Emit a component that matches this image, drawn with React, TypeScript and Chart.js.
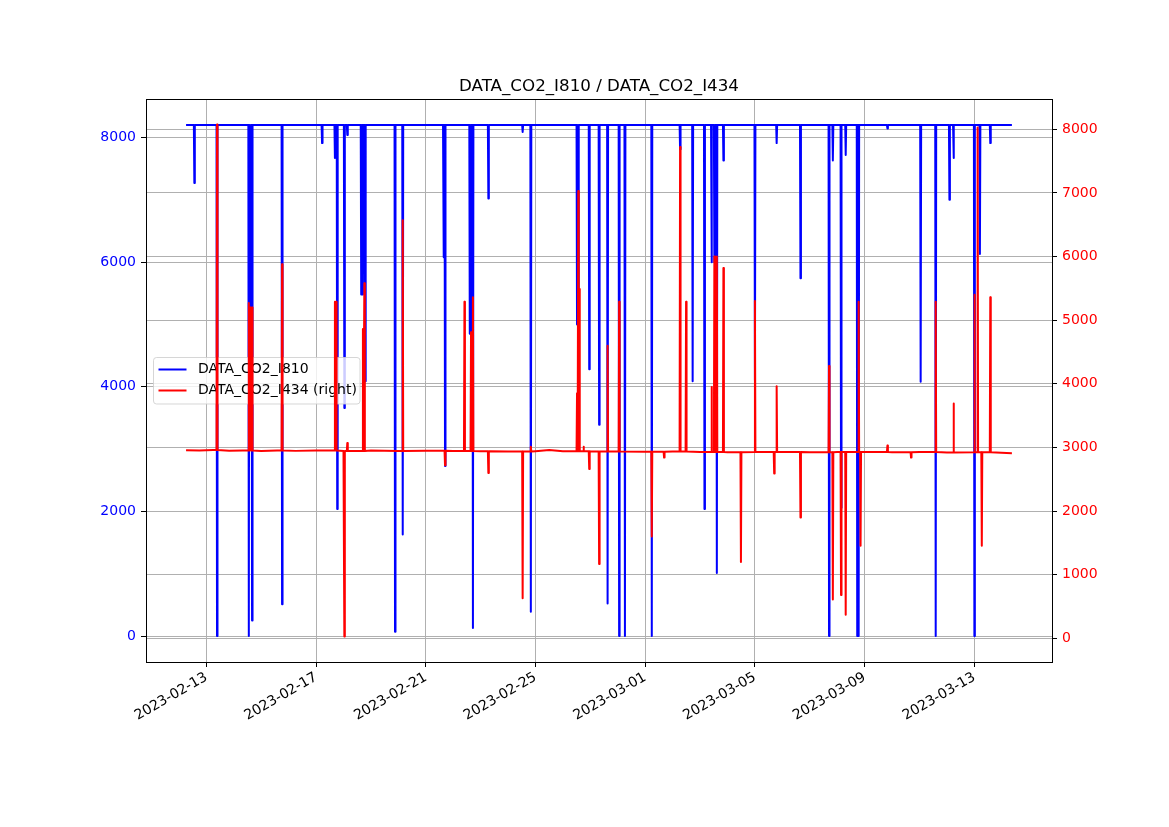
import React, { useEffect, useRef } from "react";
import { Chart, registerables } from "chart.js";

Chart.register(...registerables);

// ---------------- data ----------------
const TITLE = "DATA_CO2_I810 / DATA_CO2_I434";
const SERIES_NAMES = ["DATA_CO2_I810", "DATA_CO2_I434 (right)"];
const SERIES_COLORS = ["#0000ff", "#ff0000"];

const X_TICK_LABELS = [
  "2023-02-13",
  "2023-02-17",
  "2023-02-21",
  "2023-02-25",
  "2023-03-01",
  "2023-03-05",
  "2023-03-09",
  "2023-03-13",
];
const LEFT_TICKS = [0, 2000, 4000, 6000, 8000];
const RIGHT_TICKS = [0, 1000, 2000, 3000, 4000, 5000, 6000, 7000, 8000];

const X_MIN = "2023-02-10 19:12";
const X_MAX = "2023-03-15 19:55";
const LEFT_MIN = -417;
const LEFT_MAX = 8618;
const RIGHT_MIN = -372;
const RIGHT_MAX = 8476;

const RECORD_START = "2023-02-12 06:15";
const RECORD_END = "2023-03-14 08:50";

// DATA_CO2_I810: steady level with short drops
const I810_BASE = 8200;
const I810_EVENTS: [string, number][] = [
  ["2023-02-12 13:30", 7270],
  ["2023-02-13 09:20", 0],
  ["2023-02-14 13:10", 0],
  ["2023-02-14 14:30", 4500],
  ["2023-02-14 16:00", 250],
  ["2023-02-15 18:15", 510],
  ["2023-02-17 05:15", 7910],
  ["2023-02-17 16:30", 7670],
  ["2023-02-17 18:30", 2040],
  ["2023-02-18 00:45", 3660],
  ["2023-02-18 03:20", 8040],
  ["2023-02-18 15:30", 5480],
  ["2023-02-18 17:00", 5480],
  ["2023-02-18 19:00", 4090],
  ["2023-02-19 21:05", 70],
  ["2023-02-20 03:50", 1630],
  ["2023-02-21 15:30", 6080],
  ["2023-02-21 16:50", 2730],
  ["2023-02-22 14:30", 4850],
  ["2023-02-22 15:35", 4850],
  ["2023-02-22 17:15", 130],
  ["2023-02-23 06:45", 7020],
  ["2023-02-24 12:45", 8090],
  ["2023-02-24 19:55", 390],
  ["2023-02-26 12:20", 5000],
  ["2023-02-26 13:25", 3860],
  ["2023-02-26 23:00", 4280],
  ["2023-02-27 07:40", 3390],
  ["2023-02-27 15:05", 520],
  ["2023-02-28 01:10", 0],
  ["2023-02-28 06:15", 0],
  ["2023-03-01 05:45", 0],
  ["2023-03-02 06:30", 7810],
  ["2023-03-02 17:30", 4090],
  ["2023-03-03 03:50", 2040],
  ["2023-03-03 10:00", 6000],
  ["2023-03-03 12:30", 6000],
  ["2023-03-03 14:40", 1010],
  ["2023-03-03 20:25", 7630],
  ["2023-03-05 00:00", 4100],
  ["2023-03-05 19:00", 7910],
  ["2023-03-06 15:50", 5740],
  ["2023-03-07 16:50", 0],
  ["2023-03-07 20:10", 7630],
  ["2023-03-08 03:20", 2060],
  ["2023-03-08 07:25", 7720],
  ["2023-03-08 17:30", 0],
  ["2023-03-08 18:45", 0],
  ["2023-03-09 19:55", 8145],
  ["2023-03-11 01:00", 4080],
  ["2023-03-11 14:10", 0],
  ["2023-03-12 02:10", 7000],
  ["2023-03-12 05:45", 7670],
  ["2023-03-13 00:00", 0],
  ["2023-03-13 04:50", 6130],
  ["2023-03-13 13:55", 7910],
];

// DATA_CO2_I434: slowly drifting level
const I434_BASELINE: [string, number][] = [
  ["2023-02-12 06:15", 2955],
  ["2023-02-12 18:00", 2950],
  ["2023-02-13 06:00", 2958],
  ["2023-02-13 20:00", 2948],
  ["2023-02-14 08:00", 2952],
  ["2023-02-15 00:00", 2945],
  ["2023-02-15 14:00", 2950],
  ["2023-02-16 06:00", 2946],
  ["2023-02-17 00:00", 2950],
  ["2023-02-18 00:00", 2944],
  ["2023-02-19 00:00", 2952],
  ["2023-02-20 00:00", 2945],
  ["2023-02-21 00:00", 2948],
  ["2023-02-22 00:00", 2944],
  ["2023-02-23 00:00", 2940],
  ["2023-02-24 00:00", 2937],
  ["2023-02-25 00:00", 2942],
  ["2023-02-25 12:00", 2958],
  ["2023-02-26 00:00", 2940],
  ["2023-02-27 00:00", 2935],
  ["2023-02-28 00:00", 2938],
  ["2023-03-01 00:00", 2932],
  ["2023-03-02 00:00", 2935],
  ["2023-03-03 00:00", 2930],
  ["2023-03-04 00:00", 2925],
  ["2023-03-05 00:00", 2928],
  ["2023-03-06 00:00", 2930],
  ["2023-03-07 00:00", 2925],
  ["2023-03-08 00:00", 2928],
  ["2023-03-09 00:00", 2930],
  ["2023-03-10 00:00", 2925],
  ["2023-03-11 00:00", 2928],
  ["2023-03-12 00:00", 2922],
  ["2023-03-13 00:00", 2925],
  ["2023-03-14 08:50", 2910],
];
const I434_EVENTS: [string, number][] = [
  ["2023-02-13 09:20", 8074],
  ["2023-02-14 13:10", 5270],
  ["2023-02-14 14:30", 5200],
  ["2023-02-14 16:00", 5200],
  ["2023-02-15 18:15", 5880],
  ["2023-02-17 16:30", 5290],
  ["2023-02-17 17:30", 5290],
  ["2023-02-18 00:45", 30],
  ["2023-02-18 03:20", 3070],
  ["2023-02-18 17:00", 4860],
  ["2023-02-18 18:15", 5580],
  ["2023-02-20 03:50", 6570],
  ["2023-02-21 16:50", 2720],
  ["2023-02-22 09:50", 5290],
  ["2023-02-22 15:35", 4810],
  ["2023-02-22 17:15", 5360],
  ["2023-02-23 06:45", 2600],
  ["2023-02-24 12:45", 630],
  ["2023-02-24 19:55", 3010],
  ["2023-02-26 12:20", 3850],
  ["2023-02-26 13:25", 7030],
  ["2023-02-26 14:30", 5490],
  ["2023-02-26 18:00", 3010],
  ["2023-02-26 23:00", 2660],
  ["2023-02-27 07:40", 1170],
  ["2023-02-27 15:05", 4600],
  ["2023-02-28 01:10", 5290],
  ["2023-03-01 05:45", 1600],
  ["2023-03-01 16:30", 2840],
  ["2023-03-02 06:30", 7720],
  ["2023-03-02 11:45", 5290],
  ["2023-03-03 10:00", 3950],
  ["2023-03-03 12:30", 6000],
  ["2023-03-03 14:40", 6000],
  ["2023-03-03 20:25", 5820],
  ["2023-03-04 11:45", 1200],
  ["2023-03-05 00:00", 5300],
  ["2023-03-05 16:50", 2590],
  ["2023-03-05 19:00", 3960],
  ["2023-03-06 15:50", 1900],
  ["2023-03-07 16:50", 4280],
  ["2023-03-07 20:10", 610],
  ["2023-03-08 03:20", 680],
  ["2023-03-08 07:25", 370],
  ["2023-03-08 18:45", 5290],
  ["2023-03-08 20:25", 1455],
  ["2023-03-09 19:55", 3030],
  ["2023-03-10 16:35", 2840],
  ["2023-03-11 14:10", 5290],
  ["2023-03-12 05:45", 3690],
  ["2023-03-13 00:00", 5400],
  ["2023-03-13 02:50", 8030],
  ["2023-03-13 06:30", 1455],
  ["2023-03-13 13:55", 5360],
];

// ---------------- helpers ----------------
const toMs = (s: string) => Date.parse(s.replace(" ", "T") + ":00Z");
const EDGE = 25 * 60 * 1000;

type P = { x: number; y: number };

function buildSteady(start: string, end: string, base: number, events: [string, number][]): P[] {
  const pts: P[] = [{ x: toMs(start), y: base }];
  events.forEach(([t, v]) => {
    const m = toMs(t);
    pts.push({ x: m - EDGE, y: base }, { x: m, y: v }, { x: m + EDGE, y: base });
  });
  pts.push({ x: toMs(end), y: base });
  return pts.sort((a, b) => a.x - b.x);
}

function buildDrifting(baseline: [string, number][], events: [string, number][]): P[] {
  const base = baseline.map(([t, v]) => ({ x: toMs(t), y: v }));
  const pts: P[] = [...base];
  events.forEach(([t, v]) => {
    const m = toMs(t);
    let lvl = base[0].y;
    for (const b of base) if (b.x <= m) lvl = b.y;
    pts.push({ x: m - EDGE, y: lvl }, { x: m, y: v }, { x: m + EDGE, y: lvl });
  });
  return pts.sort((a, b) => a.x - b.x);
}

const FONT = "'DejaVu Sans', sans-serif";

const decorPlugin = {
  id: "mplDecor",
  afterDatasetDraw(chart: any, args: any) {
    if (args.index !== 0) return;
    // legend (drawn between the two series, like the original)
    const ctx = chart.ctx;
    ctx.save();
    const x0 = 153.5, y0 = 357.5, w = 206.5, h = 46.5, r = 3;
    ctx.beginPath();
    ctx.moveTo(x0 + r, y0);
    ctx.lineTo(x0 + w - r, y0);
    ctx.arcTo(x0 + w, y0, x0 + w, y0 + r, r);
    ctx.lineTo(x0 + w, y0 + h - r);
    ctx.arcTo(x0 + w, y0 + h, x0 + w - r, y0 + h, r);
    ctx.lineTo(x0 + r, y0 + h);
    ctx.arcTo(x0, y0 + h, x0, y0 + h - r, r);
    ctx.lineTo(x0, y0 + r);
    ctx.arcTo(x0, y0, x0 + r, y0, r);
    ctx.closePath();
    ctx.fillStyle = "rgba(255,255,255,0.8)";
    ctx.fill();
    ctx.strokeStyle = "rgba(204,204,204,0.8)";
    ctx.lineWidth = 1;
    ctx.stroke();
    const rows = [369.5, 390.5];
    rows.forEach((yy, i) => {
      ctx.beginPath();
      ctx.moveTo(158.5, yy);
      ctx.lineTo(186.5, yy);
      ctx.strokeStyle = SERIES_COLORS[i];
      ctx.lineWidth = 2;
      ctx.stroke();
      ctx.fillStyle = "#000";
      ctx.font = `14px ${FONT}`;
      ctx.textAlign = "left";
      ctx.textBaseline = "middle";
      ctx.fillText(SERIES_NAMES[i], 198, yy);
    });
    ctx.restore();
  },
  afterDraw(chart: any) {
    const ctx = chart.ctx;
    const a = chart.chartArea;
    ctx.save();
    ctx.strokeStyle = "#000";
    ctx.lineWidth = 1;
    ctx.strokeRect(Math.round(a.left) + 0.5, Math.round(a.top) + 0.5, Math.round(a.right - a.left), Math.round(a.bottom - a.top));
    ctx.fillStyle = "#000";
    ctx.font = `16.7px ${FONT}`;
    ctx.textAlign = "center";
    ctx.textBaseline = "alphabetic";
    ctx.fillText(TITLE, (a.left + a.right) / 2, a.top - 8);
    ctx.restore();
  },
};

export default function App() {
  const ref = useRef<HTMLCanvasElement | null>(null);
  useEffect(() => {
    if (!ref.current) return;
    const blue = buildSteady(RECORD_START, RECORD_END, I810_BASE, I810_EVENTS);
    const red = buildDrifting(I434_BASELINE, I434_EVENTS);
    const xTickValues = X_TICK_LABELS.map((s) => toMs(s + " 00:00"));
    const tickFont = { family: FONT, size: 14 };
    const chart = new Chart(ref.current, {
      type: "line",
      data: {
        datasets: [
          {
            label: SERIES_NAMES[0],
            data: blue,
            borderColor: SERIES_COLORS[0],
            backgroundColor: SERIES_COLORS[0],
            borderWidth: 2,
            pointRadius: 0,
            borderJoinStyle: "round",
            yAxisID: "y",
            order: 1,
          } as any,
          {
            label: SERIES_NAMES[1],
            data: red,
            borderColor: SERIES_COLORS[1],
            backgroundColor: SERIES_COLORS[1],
            borderWidth: 2,
            pointRadius: 0,
            borderJoinStyle: "round",
            yAxisID: "y1",
            order: 0,
          } as any,
        ],
      },
      options: {
        animation: false,
        responsive: false,
        parsing: false,
        normalized: true,
        events: [],
        layout: { padding: { top: 99, left: 0, right: 0, bottom: 0 } },
        plugins: {
          legend: { display: false },
          title: { display: false },
          tooltip: { enabled: false },
        },
        scales: {
          x: {
            type: "linear",
            min: toMs(X_MIN),
            max: toMs(X_MAX),
            afterBuildTicks: (s: any) => {
              s.ticks = xTickValues.map((v) => ({ value: v }));
            },
            afterFit: (s: any) => {
              s.height = 165;
            },
            ticks: {
              autoSkip: false,
              minRotation: 30,
              maxRotation: 30,
              color: "#000",
              font: tickFont,
              padding: 2,
              callback: (_v: any, i: number) => X_TICK_LABELS[i],
            },
            grid: { color: "#b0b0b0", lineWidth: 1, tickLength: 5, tickColor: "#000", tickWidth: 1 },
            border: { display: false },
          },
          y: {
            type: "linear",
            position: "left",
            min: LEFT_MIN,
            max: LEFT_MAX,
            afterBuildTicks: (s: any) => {
              s.ticks = LEFT_TICKS.map((v) => ({ value: v }));
            },
            afterFit: (s: any) => {
              s.width = 146;
            },
            ticks: {
              color: "#0000ff",
              font: tickFont,
              padding: 5,
              callback: (v: any) => String(v),
            },
            grid: { color: "#b0b0b0", lineWidth: 1, tickLength: 5, tickColor: "#000", tickWidth: 1 },
            border: { display: false },
          },
          y1: {
            type: "linear",
            position: "right",
            min: RIGHT_MIN,
            max: RIGHT_MAX,
            afterBuildTicks: (s: any) => {
              s.ticks = RIGHT_TICKS.map((v) => ({ value: v }));
            },
            afterFit: (s: any) => {
              s.width = 117;
            },
            ticks: {
              color: "#ff0000",
              font: tickFont,
              padding: 5,
              callback: (v: any) => String(v),
            },
            grid: { color: "#b0b0b0", lineWidth: 1, tickLength: 5, tickColor: "#000", tickWidth: 1, drawOnChartArea: true },
            border: { display: false },
          },
        },
      } as any,
      plugins: [decorPlugin],
    });
    return () => chart.destroy();
  }, []);
  return (
    <div style={{ position: "fixed", left: 0, top: 0, width: 1169, height: 827, background: "#fff" }}>
      <canvas ref={ref} width={1169} height={827} style={{ display: "block", width: 1169, height: 827 }} />
    </div>
  );
}
